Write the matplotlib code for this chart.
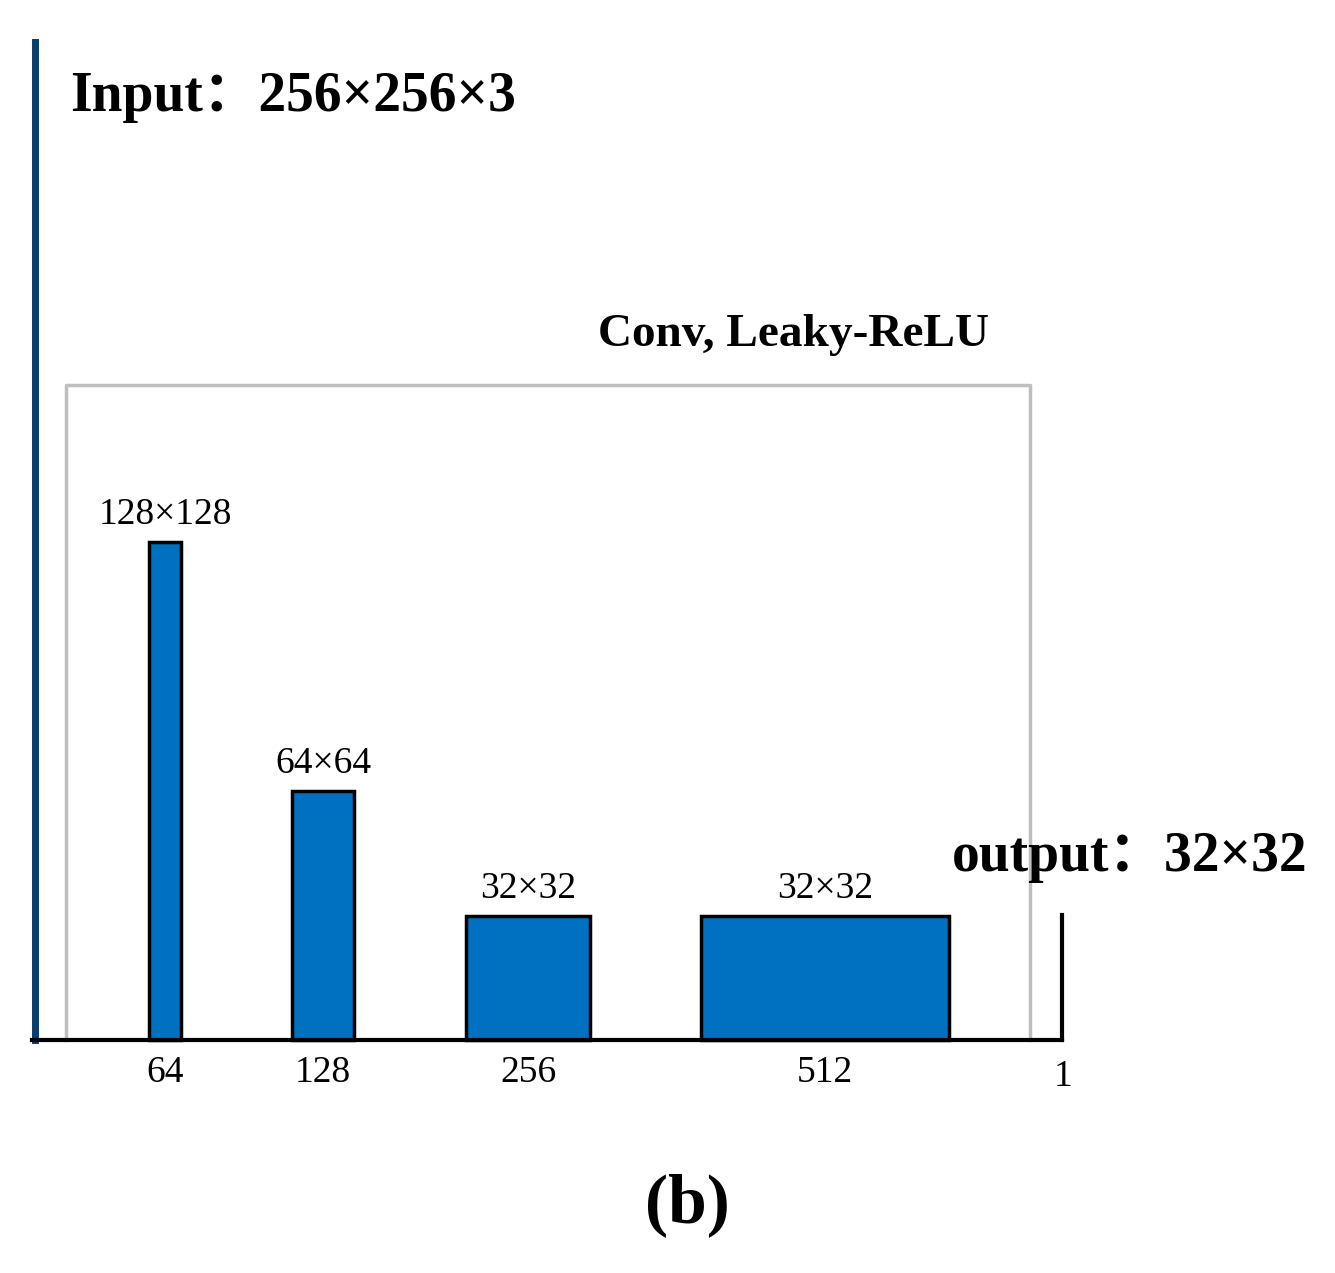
import matplotlib
matplotlib.use("Agg")
import matplotlib.pyplot as plt

channels = [64, 128, 256, 512]
channel_labels = ["64", "128", "256", "512"]
spatial = [128, 64, 32, 32]
size_labels = ["128×128", "64×64", "32×32", "32×32"]

plt.rcParams['font.family'] = ['Liberation Serif', 'DejaVu Serif']
fig = plt.figure(figsize=(13.35, 12.73), dpi=100)
ax = fig.add_axes([0, 0, 1, 1])
ax.set_xlim(0, 1335); ax.set_ylim(0, 1273); ax.axis('off')

base = 233
centers = [165, 323, 528, 825]
wscale = 0.485
hscale = 3.89
for c, ch, sp, sl, cl in zip(centers, channels, spatial, size_labels, channel_labels):
    h = sp * hscale
    ax.bar(c, h, width=ch * wscale, bottom=base, color='#0070C0', edgecolor='black', linewidth=2.5, zorder=3)
    ax.text(c, base + h + 10, sl, ha='center', va='bottom', fontsize=27)
    ax.text(c, base - 15, cl, ha='center', va='top', fontsize=27)
ax.text(1063, base - 20, "1", ha='center', va='top', fontsize=27)

# grey box
ax.plot([66, 66, 1030, 1030], [base, 1273 - 385, 1273 - 385, base], color='#bfbfbf', lw=2.5, zorder=2)
# axes lines
ax.plot([35, 35], [base, 1273 - 42], color='#0a3d6b', lw=5, zorder=4)
ax.plot([32, 1062], [base, base], color='black', lw=3, zorder=4)
ax.plot([1062, 1062], [base, 1273 - 915], color='black', lw=3, zorder=4)

ax.text(70, 1273 - 97, "Input：256×256×3", fontsize=40, fontweight='bold', va='center',
        family=['Liberation Serif', 'Noto Sans CJK SC'])
ax.text(1307, 1273 - 857, "output：32×32", fontsize=40, fontweight='bold', va='center', ha='right',
        family=['Liberation Serif', 'Noto Sans CJK SC'])
ax.text(793, 1273 - 335, "Conv, Leaky-ReLU", fontsize=34, fontweight='bold', va='center', ha='center')
ax.text(687, 1273 - 1205, "(b)", fontsize=50, fontweight='bold', va='center', ha='center')

fig.savefig("out.png", dpi=100)
